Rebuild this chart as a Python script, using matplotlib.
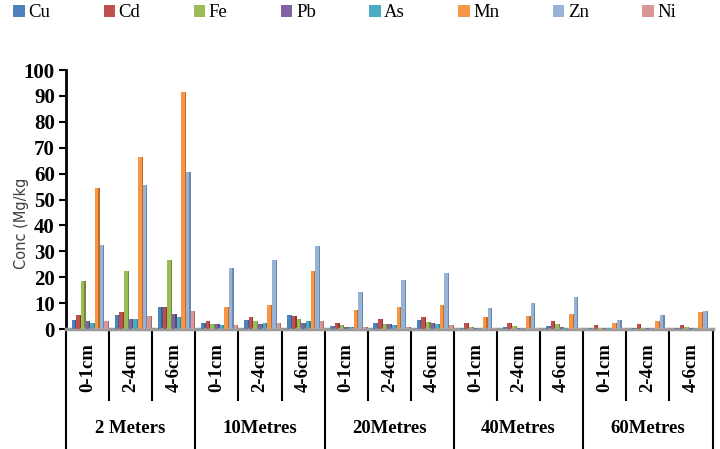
import matplotlib
matplotlib.use("Agg")
import matplotlib.pyplot as plt
from matplotlib.patches import Patch
import numpy as np

metals = ["Cu", "Cd", "Fe", "Pb", "As", "Mn", "Zn", "Ni"]
colors = ["#4F81BD", "#C0504D", "#9BBB59", "#8064A2", "#4BACC6", "#F79646", "#95B3D7", "#D99694"]
side_colors = ["#35608F", "#8E3431", "#71893D", "#5B4676", "#31809A", "#C06A24", "#6A88AE", "#A96866"]
groups = ["2 Meters", "10Metres", "20Metres", "40Metres", "60Metres"]
depths = ["0-1cm", "2-4cm", "4-6cm"]

# rows: category (group x depth), columns: metals
Cu = [3.5, 5.5, 8.5, 2.5, 3.5, 5.5, 1.2, 2.5, 3.5, 0.5, 0.8, 1.2, 0.3, 0.4, 0.5]
Cd = [5.5, 6.5, 8.5, 3.2, 4.5, 5.0, 2.5, 4.0, 4.5, 2.2, 2.5, 3.2, 1.6, 2.0, 1.5]
Fe = [18.5, 22.5, 26.5, 1.8, 3.0, 4.0, 1.5, 2.0, 2.8, 0.8, 1.2, 2.0, 0.3, 0.4, 0.8]
Pb = [3.0, 4.0, 6.0, 1.8, 2.0, 2.5, 0.8, 2.0, 2.5, 0.5, 0.6, 0.7, 0.3, 0.4, 0.5]
As = [2.5, 3.8, 4.5, 1.5, 2.5, 3.0, 0.8, 1.5, 2.0, 0.5, 0.5, 0.5, 0.3, 0.3, 0.3]
Mn = [54.5, 66.5, 91.5, 8.5, 9.5, 22.5, 7.5, 8.5, 9.5, 4.5, 5.0, 6.0, 2.2, 3.2, 6.5]
Zn = [32.5, 55.5, 60.5, 23.5, 26.5, 32.0, 14.5, 19.0, 21.5, 8.0, 10.0, 12.5, 3.5, 5.5, 7.0]
Ni = [3.0, 5.0, 7.0, 1.5, 2.5, 3.0, 0.8, 1.0, 1.5, 0.3, 0.3, 0.4, 0.3, 0.3, 0.3]
series = [Cu, Cd, Fe, Pb, As, Mn, Zn, Ni]

fig = plt.figure(figsize=(7.2, 4.49), dpi=100)
ax = fig.add_axes([0.0917, 0.267, 0.898, 0.577])

n_cat = len(groups) * len(depths)
x = np.arange(n_cat)
step = 0.108
front_w = 0.08
side_w = 0.028
for i, (vals, c, sc) in enumerate(zip(series, colors, side_colors)):
    off = (i - 3.5) * step + 0.05
    ax.bar(x + off + front_w / 2, vals, width=side_w, align="edge", color=sc, zorder=2, linewidth=0)
    ax.bar(x + off - front_w / 2, vals, width=front_w, align="edge", color=c, zorder=3, linewidth=0)

ax.set_xlim(-0.5, n_cat - 0.5)
ax.set_ylim(0, 100)
ax.set_yticks(np.arange(0, 101, 10))
ax.set_yticklabels([str(v) for v in range(0, 101, 10)], fontfamily="Liberation Serif",
                   fontweight="bold", fontsize=15)
ax.tick_params(axis="y", direction="out", length=5, width=1.5, pad=3)
ax.set_xticks([])
for s in ["top", "right"]:
    ax.spines[s].set_visible(False)
ax.spines["left"].set_linewidth(2)
ax.spines["bottom"].set_color("#9a9a9a")
ax.spines["bottom"].set_linewidth(2.5)
fig.text(22 / 720, 0.503, "Conc (Mg/kg", rotation=90, ha="center", va="center",
         fontfamily="DejaVu Sans", fontsize=10.5, color="#404040")

trans = ax.get_xaxis_transform()
y_cat = -0.274
y_grp = -0.47
# category separators
for k in range(n_cat + 1):
    xb = k - 0.5
    bottom = y_grp if k % 3 == 0 else y_cat
    ax.plot([xb, xb], [0, bottom], transform=trans, color="black", lw=1.5, clip_on=False)
for k in range(n_cat):
    ax.text(k, -0.15, depths[k % 3], transform=trans, rotation=90, ha="center", va="center",
            fontfamily="Liberation Serif", fontweight="bold", fontsize=13.5)
for g, name in enumerate(groups):
    ax.text(g * 3 + 1, -0.382, name, transform=trans, ha="center", va="center",
            fontfamily="Liberation Serif", fontweight="bold", fontsize=13.5)

handles = [Patch(facecolor=c, edgecolor="none") for c in colors]
fig.legend(handles, metals, loc="upper left", bbox_to_anchor=(-0.005, 1.028), ncol=8, frameon=False,
           handlelength=0.6, handleheight=0.6, handletextpad=0.2, columnspacing=2.85,
           prop={"family": "Liberation Serif", "size": 13.5})

fig.savefig("out.png", dpi=100)
